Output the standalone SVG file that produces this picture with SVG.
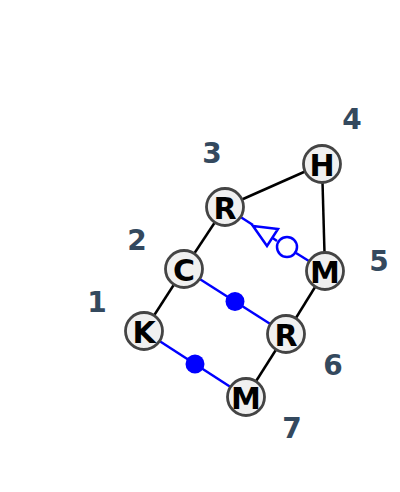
<svg xmlns="http://www.w3.org/2000/svg" width="400" height="492" viewBox="0 0 400 492">
<style>
.e{stroke:#000;stroke-width:2.5;fill:none}
.b{stroke:#0000ff;stroke-width:2.5;fill:none}
.n circle{fill:#f0f0f0;stroke:#444;stroke-width:2.8}
.n text{font-family:"DejaVu Sans",sans-serif;font-weight:bold;font-size:30px;fill:#000;text-anchor:middle;dominant-baseline:central}
.l{font-family:"DejaVu Sans",sans-serif;font-weight:bold;font-size:28px;fill:#34495e;text-anchor:middle;dominant-baseline:central}
</style>
<rect width="400" height="492" fill="#fff"/>
<g id="connectors">
<line class="e" x1="225" y1="207" x2="322" y2="164"/>
<line class="e" x1="322" y1="164" x2="325" y2="271"/>
<line class="e" x1="184" y1="269" x2="225" y2="207"/>
<line class="e" x1="144" y1="331" x2="184" y2="269"/>
<line class="e" x1="325" y1="271" x2="286" y2="334"/>
<line class="e" x1="286" y1="334" x2="246" y2="397"/>
<line class="b" x1="184" y1="269" x2="286" y2="334"/>
<circle cx="235" cy="301.5" r="9.5" fill="#0000ff"/>
<line class="b" x1="144" y1="331" x2="246" y2="397"/>
<circle cx="195" cy="364" r="9.5" fill="#0000ff"/>
<line class="b" x1="225" y1="207" x2="253" y2="225"/>
<polygon class="b" points="253,226 278,229 267,246" fill="#fff"/>
<line class="b" x1="272" y1="237.5" x2="277" y2="241"/>
<circle class="b" cx="287" cy="247" r="10" fill="#fff"/>
<line class="b" x1="296" y1="253" x2="325" y2="271"/>
</g>
<g id="n1" class="n"><circle cx="144" cy="331" r="18.5"/><text x="144" y="332">K</text></g>
<g id="n2" class="n"><circle cx="184" cy="269" r="18.5"/><text x="184" y="270">C</text></g>
<g id="n3" class="n"><circle cx="225" cy="207" r="18.5"/><text x="225" y="208">R</text></g>
<g id="n4" class="n"><circle cx="322" cy="164" r="18.5"/><text x="322" y="165">H</text></g>
<g id="n5" class="n"><circle cx="325" cy="271" r="18.5"/><text x="325" y="272">M</text></g>
<g id="n6" class="n"><circle cx="286" cy="334" r="18.5"/><text x="286" y="335">R</text></g>
<g id="n7" class="n"><circle cx="246" cy="397" r="18.5"/><text x="246" y="398">M</text></g>
<g id="labels">
<text class="l" x="97" y="302">1</text>
<text class="l" x="137" y="240">2</text>
<text class="l" x="212" y="153">3</text>
<text class="l" x="352" y="119">4</text>
<text class="l" x="379" y="261">5</text>
<text class="l" x="333" y="365">6</text>
<text class="l" x="292" y="428">7</text>
</g>
</svg>
